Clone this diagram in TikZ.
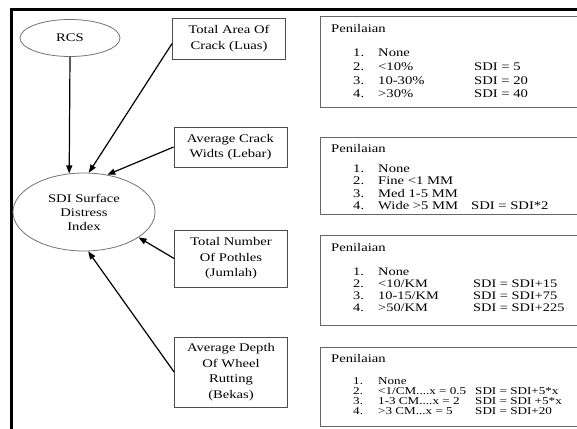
\documentclass[tikz,border=0pt]{standalone}
\usepackage{fontspec}
\setmainfont{Liberation Serif}[FakeStretch=1.25]
\usetikzlibrary{arrows.meta,shapes.geometric}

\begin{document}
\begin{tikzpicture}[x=1pt,y=-1pt,
    factor/.style={draw=black!70, line width=0.8pt, minimum width=113pt, inner sep=0pt, align=center, font=\fontsize{11.7}{15.5}\selectfont},
    oval/.style={ellipse, draw=black!55, line width=0.8pt, inner sep=0pt, align=center, font=\fontsize{11.7}{14}\selectfont},
    scorebox/.style={draw=black!60, line width=1.2pt, anchor=north west, minimum width=270pt, inner sep=0pt},
    scoretitle/.style={anchor=base west, inner sep=0pt, font=\fontsize{11.7}{13.7}\selectfont},
    scorelist/.style={anchor=base west, inner sep=0pt},
    link/.style={line width=1.2pt, -{Triangle[length=8pt,width=6pt]}}]
    \useasboundingbox (0,0) rectangle (577,428);
    % frame
    \draw[line width=3pt] (11.5,430) -- (11.5,9.5) -- (580,9.5);
    % left side
    \node[oval, minimum width=100pt, minimum height=37pt] (rcs) at (70,38) {RCS};
    \node[oval, minimum width=142pt, minimum height=78pt] (sdi) at (84,212) {SDI Surface\\Distress\\Index};
    \node[factor, minimum height=41pt] (luas) at (229,38.5) {Total Area Of\\Crack (Luas)};
    \node[factor, minimum height=40pt] (lebar) at (230.5,147) {Average Crack\\Widts (Lebar)};
    \node[factor, minimum height=57pt] (jumlah) at (231,258.5) {Total Number\\Of Pothles\\(Jumlah)};
    \node[factor, minimum height=70pt] (bekas) at (231,372) {Average Depth\\Of Wheel\\Rutting\\(Bekas)};
    \draw[link] (rcs.south) -- (sdi.111);
    \draw[link] (luas.185) -- (sdi.83);
    \draw[link] (lebar.west) -- (sdi.58);
    \draw[link] (jumlah.west) -- (sdi.-25);
    \draw[link] (bekas.west) -- (sdi.-84);
    % right side
    \node[scorebox, minimum height=91pt] (box1) at (320,16) {};
    \node[scoretitle] (pen1) at (331,32.7) {Penilaian};
    \node[scorelist, font=\fontsize{11.7}{13.7}\selectfont] (list1) at (353,56.7) {\begin{tabular}[t]{@{}p{25pt}@{}p{96pt}@{}l@{}}
        1. & None \\
        2. & <10\% & SDI = 5 \\
        3. & 10-30\% & SDI = 20 \\
        4. & >30\% & SDI = 40
    \end{tabular}};
    \node[scorebox, minimum height=77pt] (box2) at (320,137) {};
    \node[scoretitle] (pen2) at (331,152) {Penilaian};
    \node[scorelist, font=\fontsize{11.7}{12.5}\selectfont] (list2) at (353,172) {\begin{tabular}[t]{@{}p{25pt}@{}p{93pt}@{}l@{}}
        1. & None \\
        2. & Fine <1 MM \\
        3. & Med 1-5 MM \\
        4. & Wide >5 MM & SDI = SDI*2
    \end{tabular}};
    \node[scorebox, minimum height=90pt] (box3) at (320,235) {};
    \node[scoretitle] (pen3) at (331,251) {Penilaian};
    \node[scorelist, font=\fontsize{11.5}{12}\selectfont] (list3) at (353,275) {\begin{tabular}[t]{@{}p{25pt}@{}p{95pt}@{}l@{}}
        1. & None \\
        2. & <10/KM & SDI = SDI+15 \\
        3. & 10-15/KM & SDI = SDI+75 \\
        4. & >50/KM & SDI = SDI+225
    \end{tabular}};
    \node[scorebox, minimum height=79pt] (box4) at (320,347) {};
    \node[scoretitle] (pen4) at (331,362) {Penilaian};
    \node[scorelist, font=\fontsize{10.5}{10.3}\selectfont] (list4) at (353,384) {\begin{tabular}[t]{@{}p{25pt}@{}p{97pt}@{}l@{}}
        1. & None \\
        2. & <1/CM....x = 0.5 & SDI = SDI+5*x \\
        3. & 1-3 CM....x = 2 & SDI = SDI +5*x \\
        4. & >3 CM...x = 5 & SDI = SDI+20
    \end{tabular}};
\end{tikzpicture}
\end{document}
